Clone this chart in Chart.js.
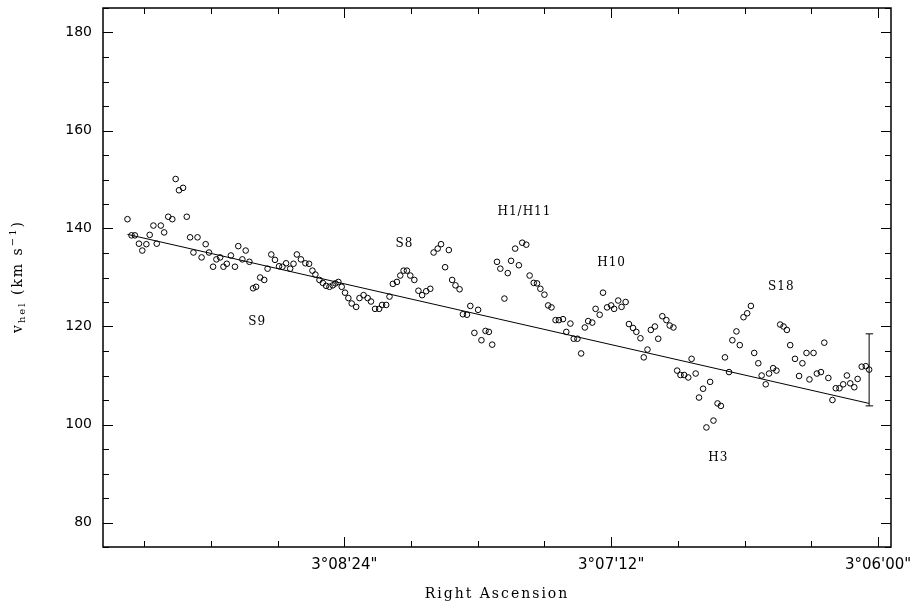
<!DOCTYPE html>
<html>
<head>
<meta charset="utf-8">
<script src="https://cdn.jsdelivr.net/npm/chart.js@4/dist/chart.umd.min.js"></script>
<style>
html,body{margin:0;padding:0;background:#fff;}
#wrap{width:911px;height:605px;position:relative;}
</style>
</head>
<body>
<div id="wrap"><canvas id="c"></canvas></div>
<script>
// Right ascension offset in arcsec relative to 3°06'00"
const raSec = [202.5,201.4,200.5,199.4,198.5,197.4,196.5,195.5,194.6,193.5,192.6,191.5,190.4,189.5,188.6,187.5,186.5,185.6,184.7,183.6,182.5,181.4,180.5,179.4,178.5,177.5,176.6,175.7,174.6,173.5,172.6,171.5,170.6,169.6,168.6,167.8,166.7,165.6,164.7,163.7,162.7,161.6,160.7,159.7,158.6,157.7,156.8,155.7,154.5,153.5,152.6,151.8,150.7,149.8,148.9,148.0,147.1,146.4,145.6,144.7,143.8,142.9,142.0,140.8,139.9,138.8,137.7,136.8,135.7,134.6,133.8,132.7,131.8,130.9,129.8,128.9,128.0,127.1,126.2,125.1,124.0,123.0,121.9,120.8,119.9,118.8,117.9,116.8,115.8,114.9,114.0,112.9,112.0,110.9,110.0,108.9,107.9,107.0,105.9,105.0,104.1,102.8,101.9,100.8,99.9,99.0,97.9,96.9,96.0,94.9,94.0,92.9,92.0,91.1,90.0,89.0,88.1,87.0,86.1,85.0,84.1,83.0,82.1,81.1,80.1,79.1,78.2,77.1,76.2,75.1,74.2,73.1,72.0,71.2,70.1,69.2,68.1,67.2,66.1,65.2,64.1,63.2,62.2,61.3,60.2,59.3,58.2,57.1,56.2,55.2,54.2,53.3,52.3,51.2,50.3,49.2,48.3,47.2,46.3,45.3,44.4,43.3,42.4,41.3,40.2,39.3,38.2,37.3,36.3,35.3,34.3,33.4,32.3,31.4,30.3,29.4,28.3,27.4,26.4,25.5,24.6,23.7,22.4,21.3,20.4,19.3,18.5,17.4,16.5,15.4,14.5,13.4,12.3,11.4,10.4,9.4,8.4,7.5,6.4,5.5,4.4,3.3,2.4];
const vHel = [141.9,138.6,138.6,136.9,135.5,136.8,138.7,140.6,136.9,140.6,139.2,142.4,141.9,150.1,147.8,148.3,142.4,138.2,135.1,138.2,134.1,136.8,135.1,132.2,133.7,134.1,132.2,132.8,134.5,132.2,136.4,133.7,135.5,133.2,127.8,128.1,130.0,129.5,131.8,134.7,133.6,132.3,132.2,132.9,131.8,132.8,134.7,133.7,132.9,132.8,131.4,130.6,129.5,128.9,128.3,128.1,128.4,128.8,129.1,128.1,126.9,125.8,124.7,124.0,125.8,126.4,125.8,125.1,123.6,123.6,124.4,124.4,126.1,128.7,129.1,130.4,131.4,131.4,130.4,129.5,127.3,126.4,127.2,127.7,135.1,135.9,136.8,132.1,135.6,129.5,128.4,127.6,122.5,122.4,124.2,118.7,123.4,117.2,119.1,118.9,116.3,133.2,131.8,125.7,130.9,133.4,135.9,132.5,137.1,136.7,130.4,128.9,128.8,127.7,126.5,124.3,123.9,121.3,121.3,121.5,118.9,120.6,117.5,117.5,114.5,119.8,121.1,120.8,123.6,122.4,126.9,123.9,124.3,123.6,125.3,124.0,125.0,120.5,119.7,118.9,117.6,113.7,115.3,119.3,120.0,117.5,122.1,121.3,120.2,119.8,111.0,110.1,110.1,109.6,113.4,110.4,105.5,107.3,99.4,108.7,100.8,104.3,103.8,113.7,110.7,117.2,119.0,116.2,121.9,122.7,124.2,114.6,112.5,110.0,108.2,110.4,111.5,111.0,120.4,120.0,119.3,116.2,113.4,109.9,112.5,114.6,109.2,114.6,110.4,110.7,116.7,109.5,105.0,107.4,107.4,108.2,110.0,108.4,107.6,109.3,111.8,111.9,111.2];

// Linear fit
const fitSec = [202.5, 2.4];
const fitV = [138.8, 104.3];

// Representative error bar
const errSec = [2.4];
const errLow = [103.8];
const errHigh = [118.5];

// Axis ticks
const xTickValues = [144, 72, 0];
const xTickLabels = ["3°08'24\"", "3°07'12\"", "3°06'00\""];
const xMinorStep = 18;
const xMajorStep = 72;
const yTickValues = [80, 100, 120, 140, 160, 180];
const yMinorStep = 5;
const yMajorStep = 20;

// Region labels
const regionNames = ['S9', 'S8', 'H1/H11', 'H10', 'S18', 'H3'];
const regionSec = [167.5, 127.8, 95.4, 71.9, 26.1, 43.1];
const regionV = [120.9, 136.8, 143.4, 133.0, 128.1, 93.1];

const pts = raSec.map((s, i) => ({x: s, y: vHel[i]}));
const fitPts = fitSec.map((s, i) => ({x: s, y: fitV[i]}));

const decor = {
  id: 'decor',
  afterDatasetsDraw(chart) {
    const {ctx, chartArea: a, scales: {x, y}} = chart;
    ctx.save();
    ctx.strokeStyle = '#000';
    ctx.lineWidth = 1;
    // error bar
    errSec.forEach((s, i) => {
      const px = x.getPixelForValue(s);
      const p1 = y.getPixelForValue(errLow[i]);
      const p2 = y.getPixelForValue(errHigh[i]);
      ctx.beginPath();
      ctx.moveTo(px, p1); ctx.lineTo(px, p2);
      ctx.moveTo(px - 3.5, p1); ctx.lineTo(px + 4, p1);
      ctx.moveTo(px - 3.5, p2); ctx.lineTo(px + 4, p2);
      ctx.stroke();
    });
    // region labels
    ctx.fillStyle = '#000';
    ctx.font = '12px "DejaVu Serif"';
    ctx.letterSpacing = '1px';
    ctx.textAlign = 'center';
    ctx.textBaseline = 'middle';
    regionNames.forEach((t, i) => {
      ctx.fillText(t, x.getPixelForValue(regionSec[i]), y.getPixelForValue(regionV[i]));
    });
    ctx.restore();
  },
  afterDraw(chart) {
    const {ctx, chartArea: a, scales: {x, y}} = chart;
    ctx.save();
    ctx.strokeStyle = '#000';
    ctx.lineWidth = 1;
    ctx.beginPath();
    const xs = Math.ceil(Math.min(x.min, x.max) / xMinorStep) * xMinorStep;
    for (let v = xs; v <= Math.max(x.min, x.max); v += xMinorStep) {
      const px = Math.round(x.getPixelForValue(v)) + 0.5;
      const len = (Math.abs(v % xMajorStep) < 1e-6) ? 10 : 6;
      ctx.moveTo(px, a.bottom); ctx.lineTo(px, a.bottom - len);
      ctx.moveTo(px, a.top); ctx.lineTo(px, a.top + len);
    }
    const ys = Math.ceil(y.min / yMinorStep) * yMinorStep;
    for (let v = ys; v <= y.max; v += yMinorStep) {
      const py = Math.round(y.getPixelForValue(v)) + 0.5;
      const len = (Math.abs(v % yMajorStep) < 1e-6) ? 10 : 6;
      ctx.moveTo(a.left, py); ctx.lineTo(a.left + len, py);
      ctx.moveTo(a.right, py); ctx.lineTo(a.right - len, py);
    }
    ctx.stroke();
    ctx.lineWidth = 1.5;
    ctx.strokeRect(a.left, a.top, a.right - a.left, a.bottom - a.top);

    // axis titles
    ctx.fillStyle = '#000';
    ctx.font = '14px "DejaVu Serif"';
    ctx.letterSpacing = '2px';
    ctx.textAlign = 'center';
    ctx.textBaseline = 'alphabetic';
    ctx.fillText('Right Ascension', (a.left + a.right) / 2, 598);

    const parts = [
      {t: 'v', s: 14, dy: 0},
      {t: 'hel', s: 10, dy: 3},
      {t: ' (km s', s: 14, dy: 0},
      {t: '\u22121', s: 10, dy: -6},
      {t: ')', s: 14, dy: 0}
    ];
    ctx.textAlign = 'left';
    let total = 0;
    parts.forEach(p => { ctx.font = p.s + 'px "DejaVu Serif"'; p.w = ctx.measureText(p.t).width; total += p.w; });
    ctx.translate(22, (a.top + a.bottom) / 2 - 1);
    ctx.rotate(-Math.PI / 2);
    let cx = -total / 2;
    parts.forEach(p => {
      ctx.font = p.s + 'px "DejaVu Serif"';
      ctx.fillText(p.t, cx, p.dy);
      cx += p.w;
    });
    ctx.restore();
  }
};

function noPad(s) {
  s.paddingTop = 0; s.paddingBottom = 0; s.paddingLeft = 0; s.paddingRight = 0;
}

new Chart(document.getElementById('c'), {
  type: 'scatter',
  data: {
    datasets: [
      {
        data: pts,
        showLine: false,
        pointStyle: 'circle',
        pointRadius: 2.8,
        pointBorderWidth: 1,
        pointBackgroundColor: 'rgba(0,0,0,0)',
        pointBorderColor: '#000'
      },
      {
        data: fitPts,
        showLine: true,
        pointRadius: 0,
        borderColor: '#000',
        borderWidth: 1,
        fill: false
      }
    ]
  },
  options: {
    responsive: true,
    maintainAspectRatio: false,
    animation: false,
    layout: {padding: {left: 0, top: 8, right: 20, bottom: 0}},
    plugins: {legend: {display: false}, tooltip: {enabled: false}},
    scales: {
      x: {
        type: 'linear',
        reverse: true,
        min: -3.5,
        max: 209.1,
        afterBuildTicks: s => { s.ticks = xTickValues.map(v => ({value: v})); },
        afterFit: s => { s.height = 58; noPad(s); },
        grid: {display: false, drawTicks: false},
        border: {display: false},
        ticks: {
          padding: 9,
          color: '#000',
          font: {family: 'DejaVu Sans', size: 15},
          maxRotation: 0,
          autoSkip: false,
          callback: v => { const i = xTickValues.indexOf(v); return i >= 0 ? xTickLabels[i] : ''; }
        }
      },
      y: {
        type: 'linear',
        min: 75,
        max: 185,
        afterBuildTicks: s => { s.ticks = yTickValues.map(v => ({value: v})); },
        afterFit: s => { s.width = 103; noPad(s); },
        grid: {display: false, drawTicks: false},
        border: {display: false},
        ticks: {
          padding: 11,
          color: '#000',
          font: {family: 'DejaVu Sans', size: 14},
          autoSkip: false
        }
      }
    }
  },
  plugins: [decor]
});
</script>
</body>
</html>
